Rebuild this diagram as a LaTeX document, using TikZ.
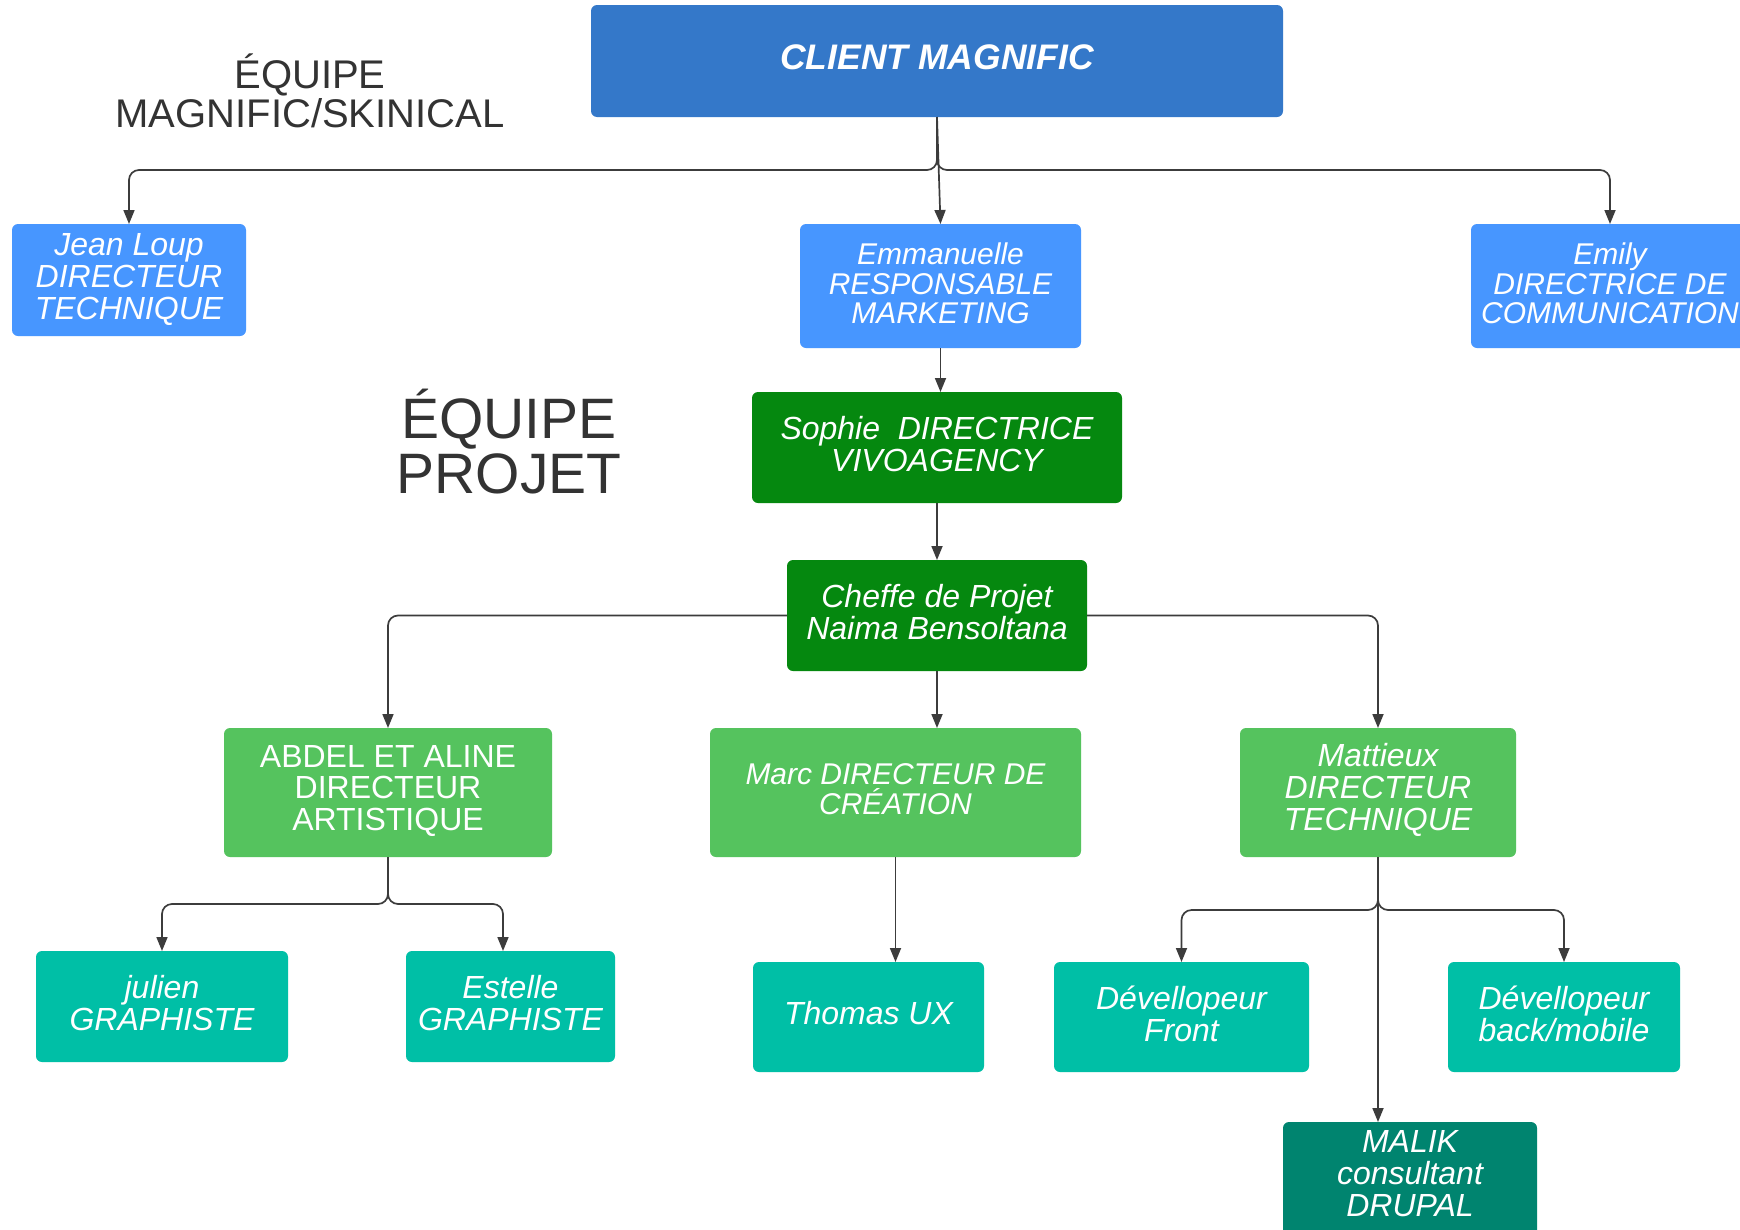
\documentclass[tikz,border=0pt]{standalone}
\usepackage{fontspec}
\setmainfont{Liberation Sans}
\usetikzlibrary{arrows.meta}
\definecolor{cblue}{HTML}{3478C9}
\definecolor{lblue}{HTML}{4796FF}
\definecolor{dgreen}{HTML}{05880F}
\definecolor{mgreen}{HTML}{55C35E}
\definecolor{teal}{HTML}{00BFA6}
\definecolor{dteal}{HTML}{00846F}
\definecolor{lineg}{HTML}{3C3C3C}
\definecolor{labelg}{HTML}{333333}
\begin{document}
\begin{tikzpicture}[x=1pt,y=-1pt,
  box/.style={rectangle, rounded corners=6pt, inner sep=0pt, outer sep=0pt},
  bt/.style={text=white, align=center, inner sep=0pt, yshift=3.5pt,
    font=\fontsize{32}{32}\selectfont\itshape},
  btsmall/.style={bt, font=\fontsize{30}{29.5}\selectfont\itshape},
  conn/.style={draw=lineg, line width=1.7pt, rounded corners=10pt,
    -{Triangle[width=11pt,length=14pt]}},
  title/.style={text=labelg, align=center, inner sep=0pt}
]
\clip (0,0) rectangle (1740,1229);
\fill[white] (0,0) rectangle (1740,1229);

% titles
\node[title, font=\fontsize{40}{39}\selectfont] (t1) at (310,91) {ÉQUIPE\\MAGNIFIC/SKINICAL};
\node[title, font=\fontsize{57}{55}\selectfont] (t2) at (509,442) {ÉQUIPE\\PROJET};

% boxes
\node[box, fill=cblue, minimum width=692, minimum height=112,
  label={[bt, font=\fontsize{35.5}{35}\selectfont\bfseries\itshape]center:{CLIENT MAGNIFIC}}]
  (client) at (937,61) {};
\node[box, fill=lblue, minimum width=234, minimum height=112,
  label={[bt, yshift=-3.5pt]center:{Jean Loup\\DIRECTEUR\\TECHNIQUE}}] (jean) at (129,280) {};
\node[box, fill=lblue, minimum width=281, minimum height=124,
  label={[btsmall, yshift=-1pt]center:{Emmanuelle\\RESPONSABLE\\MARKETING}}] (emm) at (940.5,286) {};
\node[box, fill=lblue, minimum width=278, minimum height=124,
  label={[btsmall, yshift=-1pt]center:{Emily\\DIRECTRICE DE\\COMMUNICATION}}] (emily) at (1610,286) {};
\node[box, fill=dgreen, minimum width=370, minimum height=111,
  label={[bt]center:{Sophie~ DIRECTRICE\\VIVOAGENCY}}] (sophie) at (937,447.5) {};
\node[box, fill=dgreen, minimum width=300, minimum height=111,
  label={[bt]center:{Cheffe de Projet\\Naima Bensoltana}}] (cheffe) at (937,615.5) {};
\node[box, fill=mgreen, minimum width=328, minimum height=129,
  label={[bt, yshift=-2pt, font=\fontsize{32}{31.5}\selectfont\upshape]center:{ABDEL ET ALINE\\DIRECTEUR\\ARTISTIQUE}}]
  (abdel) at (388,792.5) {};
\node[box, fill=mgreen, minimum width=371, minimum height=129,
  label={[btsmall]center:{Marc DIRECTEUR DE\\CRÉATION}}] (marc) at (895.5,792.5) {};
\node[box, fill=mgreen, minimum width=276, minimum height=129,
  label={[bt, yshift=-1pt]center:{Mattieux\\DIRECTEUR\\TECHNIQUE}}] (matt) at (1378,792.5) {};
\node[box, fill=teal, minimum width=252, minimum height=111,
  label={[bt]center:{julien\\GRAPHISTE}}] (julien) at (162,1006.5) {};
\node[box, fill=teal, minimum width=209, minimum height=111,
  label={[bt]center:{Estelle\\GRAPHISTE}}] (estelle) at (510.5,1006.5) {};
\node[box, fill=teal, minimum width=231, minimum height=110,
  label={[bt]center:{Thomas UX}}] (thomas) at (868.5,1017) {};
\node[box, fill=teal, minimum width=255, minimum height=110,
  label={[bt]center:{Dévellopeur\\Front}}] (front) at (1181.5,1017) {};
\node[box, fill=teal, minimum width=232, minimum height=110,
  label={[bt]center:{Dévellopeur\\back/mobile}}] (back) at (1564,1017) {};
\node[box, fill=dteal, minimum width=254, minimum height=126,
  label={[bt, yshift=7.5pt]center:{MALIK\\consultant\\DRUPAL}}] (malik) at (1410,1185) {};

% junction coordinates
\coordinate (j0) at (937,170);
\coordinate (j1) at (388,904);
\coordinate (j2) at (503,904);
\coordinate (j3) at (1378,910);

% connectors
\draw[conn] (client.south) -- (j0) -| (jean.north);
\draw[conn] (client.south) -- (j0) -| (emily.north);
\draw[conn] (client.south) -- (emm.north);
\draw[conn] (emm.south) -- (emm.south |- sophie.north);
\draw[conn] (sophie.south) -- (cheffe.north);
\draw[conn] (cheffe.west) -| (abdel.north);
\draw[conn] (cheffe.east) -| (matt.north);
\draw[conn] (cheffe.south) -- (cheffe.south |- marc.north);
\draw[conn] (marc.south) -- (marc.south |- thomas.north);
\draw[conn] (abdel.south) -- (j1) -| (julien.north);
\draw[conn] (abdel.south) |- (j2) -- (j2 |- estelle.north);
\draw[conn] (matt.south) -- (j3) -| (front.north);
\draw[conn] (matt.south) -- (j3) -| (back.north);
\draw[conn] (matt.south) -- (matt.south |- malik.north);
\end{tikzpicture}
\end{document}
